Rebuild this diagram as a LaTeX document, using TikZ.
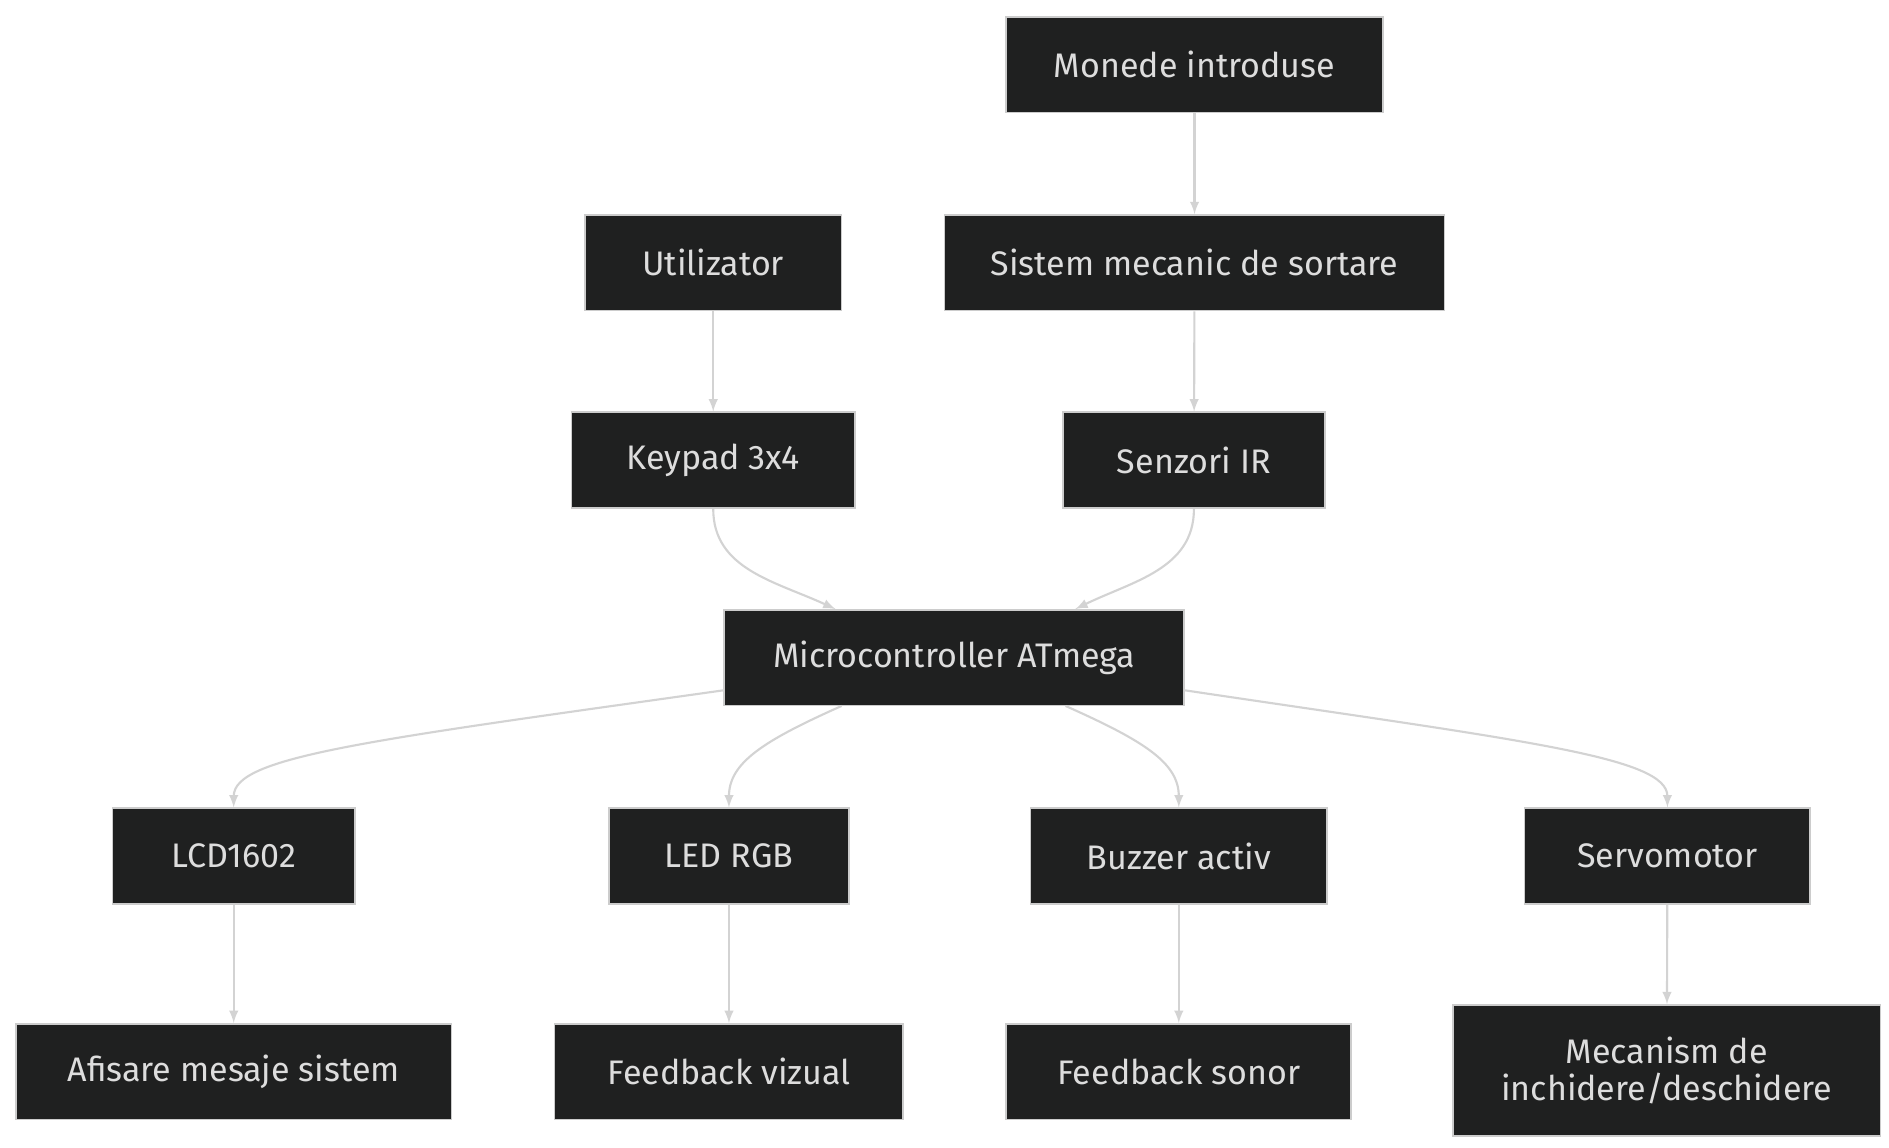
\documentclass[tikz,border=0pt]{standalone}
\usepackage{fontspec}
\setmainfont{Fira Sans}
\definecolor{boxfill}{HTML}{1F2020}
\definecolor{boxline}{HTML}{CCCCCC}
\definecolor{boxtext}{HTML}{DDDDDD}
\definecolor{arrowgray}{HTML}{D3D3D3}
\tikzset{>=latex}
\tikzset{
  block/.style={draw=boxline, fill=boxfill, text=boxtext, line width=0.8pt,
    minimum height=1.58cm, inner sep=0pt, align=center,
    font=\fontsize{16}{17}\selectfont},
  link/.style={->, arrowgray, line width=1pt}
}
\begin{document}
\begin{tikzpicture}[x=0.02cm, y=-0.02cm]

    \useasboundingbox (0,0) rectangle (1560,948);

    \node[block, minimum width=6.22cm] (coins) at (986.5,53.5) {Monede introduse};
    \node[block, minimum width=4.24cm] (user) at (589,217) {Utilizator};
    \node[block, minimum width=8.26cm] (sorter) at (986.5,217) {Sistem mecanic de sortare};
    \node[block, minimum width=4.68cm] (keypad) at (589,380) {Keypad 3x4};
    \node[block, minimum width=4.32cm] (ir) at (986,380) {Senzori IR};
    \node[block, minimum width=7.6cm] (mcu) at (788,543) {Microcontroller ATmega};
    \node[block, minimum width=4cm] (lcd) at (193,707) {LCD1602};
    \node[block, minimum width=3.96cm] (led) at (602,707) {LED RGB};
    \node[block, minimum width=4.9cm] (buzzer) at (973.5,707) {Buzzer activ};
    \node[block, minimum width=4.72cm] (servo) at (1377,707) {Servomotor};
    \node[block, minimum width=7.2cm] (msg) at (193,885) {Afisare mesaje sistem};
    \node[block, minimum width=5.76cm] (visual) at (602,885) {Feedback vizual};
    \node[block, minimum width=5.7cm] (sound) at (973.5,885) {Feedback sonor};
    \node[block, minimum width=7.06cm, minimum height=2.16cm] (lock) at (1376.5,884) {Mecanism de\\inchidere/deschidere};

    % entry and exit points on the microcontroller
    \coordinate (inK) at (690,503);
    \coordinate (inI) at (888,503);
    \coordinate (outL) at (598,570);
    \coordinate (outD) at (695,583);
    \coordinate (outB) at (880,583);
    \coordinate (outS) at (978,570);

    \draw[link] (coins) -- (sorter);
    \draw[link] (user) -- (keypad);
    \draw[link] (sorter) -- (ir);
    \draw[link] (keypad.south) .. controls (589,470) and (640,480) .. (inK);
    \draw[link] (ir.south) .. controls (986,470) and (935,480) .. (inI);
    \draw[link] (outL) .. controls (300,612) and (193,625) .. (lcd.north);
    \draw[link] (outD) .. controls (630,612) and (602,630) .. (led.north);
    \draw[link] (outB) .. controls (945,612) and (973.5,630) .. (buzzer.north);
    \draw[link] (outS) .. controls (1260,612) and (1377,625) .. (servo.north);
    \draw[link] (lcd) -- (msg);
    \draw[link] (led) -- (visual);
    \draw[link] (buzzer) -- (sound);
    \draw[link] (servo) -- (lock);

\end{tikzpicture}
\end{document}
